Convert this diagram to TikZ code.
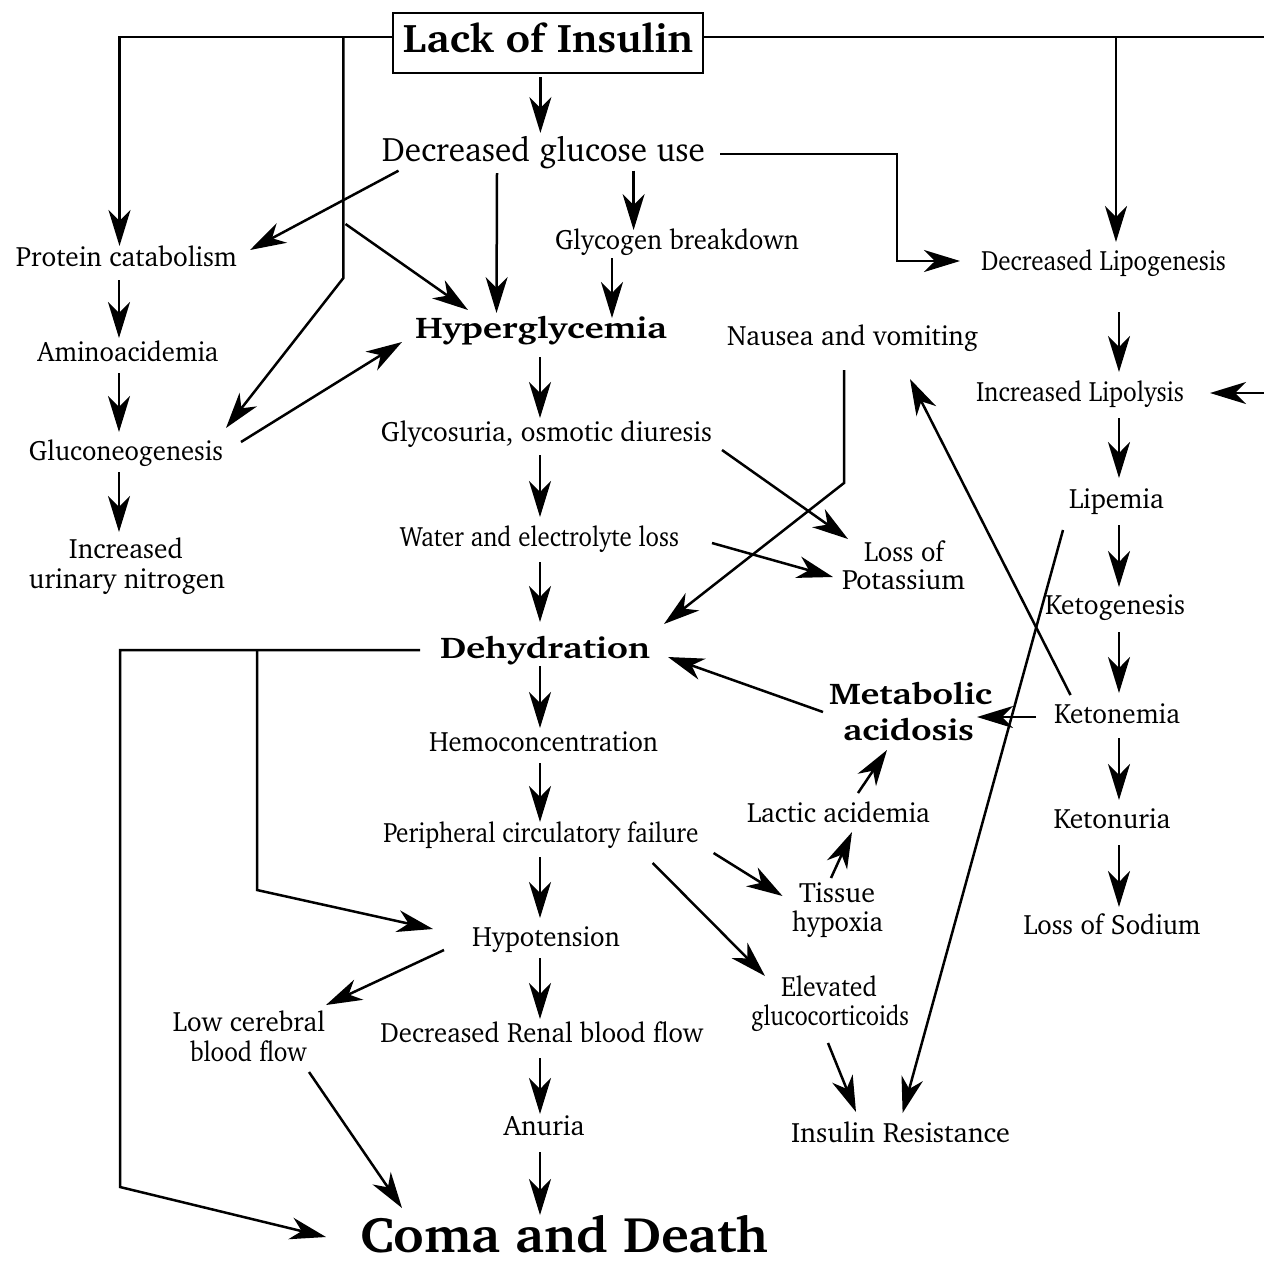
\documentclass[tikz,border=0pt]{standalone}
\usepackage[T1]{fontenc}
\renewcommand{\rmdefault}{bch}
\usepackage{graphicx}
\usetikzlibrary{arrows.meta}
\newcommand\fw[2]{\resizebox{#1pt}{\height}{#2}}
\newcommand\fN{\fontsize{28}{32}\selectfont}
\newcommand\fB{\fontsize{30}{34}\selectfont\bfseries}
\tikzset{
  lbl/.style={inner sep=0pt, anchor=base, font=\fN},
  blbl/.style={inner sep=0pt, anchor=base, font=\fB},
  ln/.style={line width=2.5pt},
  arr/.style={line width=2.5pt, -{Stealth[length=36pt,width=22pt,inset=11pt]}},
}
\begin{document}
\begin{tikzpicture}[x=1pt,y=-1pt]
\useasboundingbox (0,0) rectangle (1264,1262);
\fill[white] (0,0) rectangle (1264,1262);
% nodes
\node[draw, line width=2.2pt, inner sep=0pt, anchor=base, minimum width=310pt, text height=39pt, text depth=21pt,
      font=\fontsize{40}{44}\selectfont\bfseries] (lack) at (548,52) {\fw{290}{Lack of Insulin}};
\node[lbl, font=\fontsize{34}{38}\selectfont] (dgu) at (543.5,161) {\fw{323}{Decreased glucose use}};
\node[lbl] (prot) at (126.5,266) {\fw{221}{Protein catabolism}};
\node[lbl] (glyc) at (677,249) {\fw{244}{Glycogen breakdown}};
\node[lbl] (dlip) at (1103.5,270) {\fw{245}{Decreased Lipogenesis}};
\node[blbl] (hyper) at (541,338) {\fw{252}{Hyperglycemia}};
\node[lbl] (naus) at (852.5,345) {\fw{251}{Nausea and vomiting}};
\node[lbl] (amino) at (128,361) {\fw{181}{Aminoacidemia}};
\node[lbl] (gluco) at (126,460) {\fw{194}{Gluconeogenesis}};
\node[lbl] (incA) at (126,558) {\fw{114}{Increased}};
\node[lbl] (incB) at (127,588) {\fw{196}{urinary nitrogen}};
\node[lbl] (glycos) at (546.5,441) {\fw{331}{Glycosuria, osmotic diuresis}};
\node[lbl] (water) at (539.5,546) {\fw{279}{Water and electrolyte loss}};
\node[lbl] (ilip) at (1080,401) {\fw{208}{Increased Lipolysis}};
\node[lbl] (lipem) at (1116.5,508) {\fw{95}{Lipemia}};
\node[lbl] (lossA) at (904,561) {\fw{80}{Loss of}};
\node[lbl] (lossB) at (903.5,589) {\fw{123}{Potassium}};
\node[lbl] (ketog) at (1115,614) {\fw{140}{Ketogenesis}};
\node[blbl] (dehyd) at (545,658) {\fw{210}{Dehydration}};
\node[blbl] (metA) at (910.5,704) {\fw{163}{Metabolic}};
\node[blbl] (metB) at (908.5,740) {\fw{131}{acidosis}};
\node[lbl] (keton) at (1117,723) {\fw{126}{Ketonemia}};
\node[lbl] (hemo) at (543.5,751) {\fw{229}{Hemoconcentration}};
\node[lbl] (lactic) at (838.5,822) {\fw{183}{Lactic acidemia}};
\node[lbl] (ketonu) at (1112,828) {\fw{117}{Ketonuria}};
\node[lbl] (periph) at (541,842) {\fw{315}{Peripheral circulatory failure}};
\node[lbl] (tisA) at (837,902) {\fw{76}{Tissue}};
\node[lbl] (tisB) at (837.5,931) {\fw{91}{hypoxia}};
\node[lbl] (sodium) at (1112,934) {\fw{177}{Loss of Sodium}};
\node[lbl] (hypo) at (546,946) {\fw{148}{Hypotension}};
\node[lbl] (elevA) at (829,996) {\fw{96}{Elevated}};
\node[lbl] (elevB) at (830,1025) {\fw{158}{glucocorticoids}};
\node[lbl] (lowA) at (249,1031) {\fw{152}{Low cerebral}};
\node[lbl] (lowB) at (248.5,1061) {\fw{117}{blood flow}};
\node[lbl] (renal) at (542,1042) {\fw{323}{Decreased Renal blood flow}};
\node[lbl] (anuria) at (544,1135) {\fw{81}{Anuria}};
\node[lbl] (insres) at (900.5,1142) {\fw{219}{Insulin Resistance}};
\node[inner sep=0pt, anchor=base, font=\fontsize{50}{54}\selectfont\bfseries] (coma) at (564,1252) {\fw{408}{Coma and Death}};
% connectors
\draw[arr] ([shift={(-7.6,25)}]lack.base) -- ([shift={(-3.1,-28)}]dgu.base);
\draw[arr] ([shift={(-155,-15)}]lack.base) -| ([shift={(-7,-20)}]prot.base);
\draw[arr] ([shift={(-204.6,-15)}]lack.base) -- ++(0,241) -- ([shift={(100,-32)}]gluco.base);
\draw[arr] ([shift={(-202.5,172)}]lack.base) -- ([shift={(-73,-28)}]hyper.base);
\draw[ln] ([shift={(155,-15)}]lack.base) -- (1264,37);
\draw[arr] ([shift={(568,-15)}]lack.base) -- ([shift={(12.5,-28)}]dlip.base);
\draw[arr] (1264,393) -- ([shift={(130,-8)}]ilip.base);
\draw[arr] ([shift={(-145,9.7)}]dgu.base) -- ([shift={(123.5,-16)}]prot.base);
\draw[arr] ([shift={(-46.5,12)}]dgu.base) -- ([shift={(-44.5,-25)}]hyper.base);
\draw[arr] ([shift={(90.1,9.7)}]dgu.base) -- ([shift={(-43.4,-19)}]glyc.base);
\draw[arr] ([shift={(176.5,-7)}]dgu.base) -- ++(177,0) -- ++(0,107) -- ([shift={(-143.5,-9)}]dlip.base);
\draw[arr] ([shift={(-65,9)}]glyc.base) -- ([shift={(71,-20)}]hyper.base);
\draw[arr] ([shift={(-7.5,14)}]prot.base) -- ([shift={(-9,-23)}]amino.base);
\draw[arr] ([shift={(-9,12)}]amino.base) -- ([shift={(-7,-28)}]gluco.base);
\draw[arr] ([shift={(-7,12)}]gluco.base) -- ([shift={(-7,-26)}]incA.base);
\draw[arr] ([shift={(115,-18)}]gluco.base) -- ([shift={(-139,4)}]hyper.base);
\draw[arr] ([shift={(-1,19)}]hyper.base) -- ([shift={(-6.5,-23)}]glycos.base);
\draw[arr] ([shift={(-6.5,14)}]glycos.base) -- ([shift={(0.5,-29)}]water.base);
\draw[arr] ([shift={(0.5,16)}]water.base) -- ([shift={(-5,-36)}]dehyd.base);
\draw[arr] ([shift={(175.5,9)}]glycos.base) -- ([shift={(-56,-22)}]lossA.base);
\draw[arr] ([shift={(172.5,-3)}]water.base) -- ([shift={(-70.5,-12)}]lossB.base);
\draw[arr] ([shift={(-8.5,25)}]naus.base) -- ++(0,113) -- ([shift={(119,-34)}]dehyd.base);
\draw[arr] ([shift={(15.5,42)}]dlip.base) -- ([shift={(39,-29)}]ilip.base);
\draw[arr] ([shift={(39,17)}]ilip.base) -- ([shift={(2.5,-30)}]lipem.base);
\draw[arr] ([shift={(2.5,17)}]lipem.base) -- ([shift={(4,-27)}]ketog.base);
\draw[arr] ([shift={(4,18)}]ketog.base) -- ([shift={(2,-30)}]keton.base);
\draw[arr] ([shift={(2,15)}]keton.base) -- ([shift={(7,-28)}]ketonu.base);
\draw[arr] ([shift={(7,17)}]ketonu.base) -- ([shift={(7,-27)}]sodium.base);
\draw[arr] ([shift={(-81,-6)}]keton.base) -- ([shift={(66.5,13)}]metA.base);
\draw[arr] ([shift={(-46.5,-28)}]keton.base) -- ([shift={(57.5,34)}]naus.base);
\draw[arr] ([shift={(-53.5,22)}]lipem.base) -- ([shift={(2.1,-29)}]insres.base);
\draw[arr] ([shift={(-87.5,8)}]metA.base) -- ([shift={(123,-1)}]dehyd.base);
\draw[arr] ([shift={(-5,8)}]dehyd.base) -- ([shift={(-3.5,-23)}]hemo.base);
\draw[arr] ([shift={(-3.5,12)}]hemo.base) -- ([shift={(-1,-20)}]periph.base);
\draw[arr] ([shift={(-1,15)}]periph.base) -- ([shift={(-6,-28)}]hypo.base);
\draw[arr] ([shift={(-6,12)}]hypo.base) -- ([shift={(-2,-23)}]renal.base);
\draw[arr] ([shift={(-2,16)}]renal.base) -- ([shift={(-4,-21)}]anuria.base);
\draw[arr] ([shift={(-4,17)}]anuria.base) -- ([shift={(-24,-37)}]coma.base);
\draw[arr] ([shift={(-125,-8)}]dehyd.base) -- ++(-300,0) -- ++(0,537) -- ([shift={(-238,-15)}]coma.base);
\draw[arr] ([shift={(-288,-8)}]dehyd.base) -- ++(0,240) -- ([shift={(-113,-17)}]hypo.base);
\draw[arr] ([shift={(-102,4)}]hypo.base) -- ([shift={(77,-26)}]lowA.base);
\draw[arr] ([shift={(60.5,11)}]lowB.base) -- ([shift={(-162,-44)}]coma.base);
\draw[arr] ([shift={(172.6,11)}]periph.base) -- ([shift={(-54.5,-6)}]tisA.base);
\draw[arr] ([shift={(-6,-24)}]tisA.base) -- ([shift={(13.5,10)}]lactic.base);
\draw[arr] ([shift={(19.5,-29)}]lactic.base) -- ([shift={(-21.5,10)}]metB.base);
\draw[arr] ([shift={(111.7,21)}]periph.base) -- ([shift={(-64,-20)}]elevA.base);
\draw[arr] ([shift={(-2,18)}]elevB.base) -- ([shift={(-44.5,-30)}]insres.base);
\end{tikzpicture}
\end{document}
